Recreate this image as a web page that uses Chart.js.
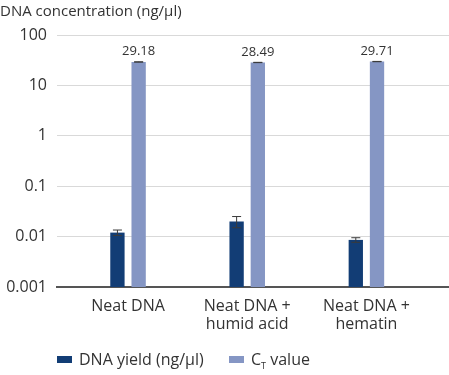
<!DOCTYPE html>
<html>
<head>
<meta charset="utf-8">
<script src="https://cdn.jsdelivr.net/npm/chart.js@4"></script>
<style>
  body { margin: 0; background: #fff; }
  #wrap { position: relative; width: 449px; height: 375px; }
  #legend { position: absolute; left: 0; top: 348px; width: 449px; font: 16px "Open Sans", sans-serif; color: #333; white-space: nowrap; }
  #legend span.item { position: absolute; top: 0; }
  #legend span.box { display: inline-block; width: 15px; height: 7px; margin-right: 7px; vertical-align: 2px; }
  #legend sub { font-size: 9px; }
</style>
</head>
<body>
<div id="wrap">
  <canvas id="dnaChart" width="449" height="375"></canvas>
  <div id="legend"></div>
</div>
<script>
// data
var categories = [['Neat DNA'], ['Neat DNA +', 'humid acid'], ['Neat DNA +', 'hematin']];
var yieldValues = [0.012, 0.020, 0.0086];
var yieldErrors = [0.0015, 0.005, 0.0009];
var ctValues = [29.18, 28.49, 29.71];
var ctErrors = [0.2, 0.2, 0.2];
var yTicks = [0.001, 0.01, 0.1, 1, 10, 100];

var darkBlue = '#123d75';
var lightBlue = '#8596c4';
var fontName = '"Open Sans", sans-serif';

var errors = [yieldErrors, ctErrors];

// error bars + value labels on the Ct bars
var errorBarPlugin = {
  id: 'errorBars',
  afterDatasetsDraw(chart) {
    var ctx = chart.ctx;
    var y = chart.scales.y;
    ctx.save();
    chart.data.datasets.forEach(function (ds, di) {
      var meta = chart.getDatasetMeta(di);
      meta.data.forEach(function (bar, i) {
        var v = ds.data[i].y;
        var e = errors[di][i];
        var top = y.getPixelForValue(v + e);
        var bot = y.getPixelForValue(v - e);
        ctx.strokeStyle = '#3a3a3a';
        ctx.lineWidth = 1;
        ctx.beginPath();
        ctx.moveTo(bar.x, top); ctx.lineTo(bar.x, bot);
        ctx.moveTo(bar.x - 4.5, top); ctx.lineTo(bar.x + 4.5, top);
        ctx.moveTo(bar.x - 4.5, bot); ctx.lineTo(bar.x + 4.5, bot);
        ctx.stroke();
        if (di == 1) {
          ctx.fillStyle = '#333';
          ctx.font = '13px ' + fontName;
          ctx.textAlign = 'center';
          ctx.textBaseline = 'bottom';
          ctx.fillText(v.toFixed(2), bar.x, top - 4);
        }
      });
    });
    ctx.restore();
  }
};

var ctx = document.getElementById('dnaChart').getContext('2d');
var chart = new Chart(ctx, {
  type: 'bar',
  data: {
    datasets: [{
      label: 'DNA yield (ng/µl)',
      data: yieldValues.map(function (v, i) { return { x: i, y: v }; }),
      backgroundColor: darkBlue,
      categoryPercentage: 0.356,
      barPercentage: 0.675
    }, {
      label: 'CT value',
      data: ctValues.map(function (v, i) { return { x: i, y: v }; }),
      backgroundColor: lightBlue,
      categoryPercentage: 0.356,
      barPercentage: 0.675
    }]
  },
  options: {
    responsive: false,
    animation: false,
    layout: { padding: 0 },
    plugins: {
      legend: { display: false },
      tooltip: { enabled: false },
      title: {
        display: true,
        text: 'DNA concentration (ng/µl)',
        align: 'start',
        color: '#333',
        font: { family: fontName, size: 15, weight: 'normal', lineHeight: 1.2 },
        padding: { top: 3, bottom: 14 }
      }
    },
    scales: {
      x: {
        type: 'linear',
        offset: false,
        min: -0.596,
        max: 2.693,
        afterBuildTicks: function (axis) {
          axis.ticks = categories.map(function (c, i) { return { value: i }; });
        },
        afterFit: function (axis) { axis.height = 88; },
        grid: { display: false, drawTicks: false, offset: false },
        border: { display: true, color: '#555', width: 2 },
        ticks: {
          padding: 10,
          color: '#333',
          font: { family: fontName, size: 16, lineHeight: 1.15 },
          maxRotation: 0,
          autoSkip: false,
          callback: function (v) { return categories[v]; }
        }
      },
      y: {
        type: 'logarithmic',
        min: 0.001,
        max: 100,
        afterBuildTicks: function (axis) {
          axis.ticks = yTicks.map(function (v) { return { value: v }; });
        },
        afterFit: function (axis) { axis.width = 57; },
        grid: { color: '#d9d9d9', lineWidth: 1, drawTicks: false },
        border: { display: false },
        ticks: {
          padding: 10,
          color: '#333',
          font: { family: fontName, size: 16 },
          callback: function (v) { return String(v); }
        }
      }
    }
  },
  plugins: [errorBarPlugin]
});

// legend with subscript T
var legend = document.getElementById('legend');
legend.innerHTML =
  '<span class="item" style="left:57px"><span class="box" style="background:' + darkBlue + '"></span>DNA yield (ng/µl)</span>' +
  '<span class="item" style="left:229px"><span class="box" style="background:' + lightBlue + '"></span>C<sub>T</sub> value</span>';
</script>
</body>
</html>
